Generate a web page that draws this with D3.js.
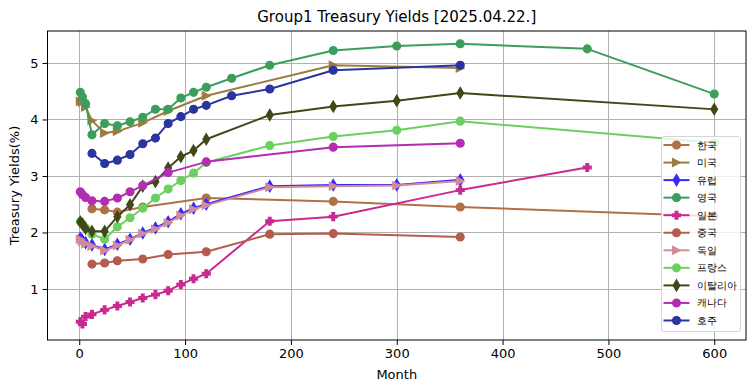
<!DOCTYPE html>
<html><head><meta charset="utf-8">
<script src="https://cdn.jsdelivr.net/npm/d3@7"></script>
<style>
html,body{margin:0;padding:0;background:#fff;}
svg text{font-family:"DejaVu Sans",sans-serif;fill:#000;}
</style></head>
<body><svg id="c" width="755" height="391"></svg>
<script>
// ---- data ----
const seriesNames = ["한국","미국","유럽","영국","일본","중국","독일","프랑스","이탈리아","캐나다","호주"];
const seriesColors = ["#b07048","#9e7b40","#3a28ff","#3c9e5c","#c82a91","#b55c4c","#d28c95","#6cd060","#404818","#b42cb4","#2a35a0"];
const seriesMarkers = ["o",">","d","o","P","o",">","o","d","o","o"];

const korMonths = [12,24,36,60,120,240,360,600];
const korYields = [2.42,2.40,2.36,2.45,2.61,2.55,2.45,2.29];
const usaMonths = [1,3,6,12,24,36,60,84,120,240,360];
const usaYields = [4.32,4.31,4.22,3.98,3.76,3.79,3.94,4.15,4.42,4.96,4.91];
const eurMonths = [1,3,6,12,24,36,48,60,72,84,96,108,120,180,240,300,360];
const eurYields = [1.90,1.86,1.82,1.78,1.70,1.79,1.88,1.99,2.08,2.19,2.33,2.43,2.50,2.82,2.84,2.84,2.93];
const gbrMonths = [1,3,6,12,24,36,48,60,72,84,96,108,120,144,180,240,300,360,480,600];
const gbrYields = [4.48,4.40,4.28,3.73,3.93,3.89,3.96,4.04,4.18,4.18,4.38,4.48,4.57,4.73,4.96,5.22,5.30,5.34,5.25,4.45];
const jpnMonths = [1,3,6,12,24,36,48,60,72,84,96,108,120,180,240,360,480];
const jpnYields = [0.42,0.38,0.51,0.55,0.63,0.70,0.77,0.84,0.90,0.97,1.08,1.18,1.27,2.20,2.28,2.75,3.15];
const chnMonths = [12,24,36,60,84,120,180,240,360];
const chnYields = [1.44,1.46,1.50,1.53,1.61,1.66,1.97,1.98,1.92];
const deuMonths = [1,3,6,12,24,36,48,60,72,84,96,108,120,180,240,300,360];
const deuYields = [1.88,1.84,1.80,1.76,1.68,1.77,1.87,1.98,2.06,2.17,2.30,2.41,2.48,2.80,2.82,2.83,2.91];
const fraMonths = [1,3,6,12,24,36,48,60,72,84,96,108,120,180,240,300,360,600];
const fraYields = [2.19,2.15,2.08,1.97,1.88,2.10,2.26,2.43,2.61,2.77,2.92,3.05,3.24,3.54,3.70,3.81,3.97,3.59];
const itaMonths = [1,3,6,12,24,36,48,60,72,84,96,108,120,180,240,300,360,600];
const itaYields = [2.19,2.15,2.07,2.02,2.02,2.28,2.49,2.82,2.90,3.14,3.34,3.45,3.65,4.08,4.23,4.33,4.47,4.18];
const canMonths = [1,3,6,12,24,36,48,60,84,120,240,360];
const canYields = [2.72,2.67,2.62,2.56,2.55,2.61,2.72,2.83,3.06,3.25,3.51,3.58];
const ausMonths = [12,24,36,48,60,72,84,96,108,120,144,180,240,360];
const ausYields = [3.40,3.22,3.28,3.38,3.57,3.67,3.93,4.05,4.18,4.25,4.42,4.54,4.87,4.96];

const xTicks = [0,100,200,300,400,500,600];
const yTicks = [1,2,3,4,5];
const titleText = "Group1 Treasury Yields [2025.04.22.]";
const xLabel = "Month";
const yLabel = "Treasury Yields(%)";

const monthsList = [korMonths,usaMonths,eurMonths,gbrMonths,jpnMonths,chnMonths,deuMonths,fraMonths,itaMonths,canMonths,ausMonths];
const yieldsList = [korYields,usaYields,eurYields,gbrYields,jpnYields,chnYields,deuYields,fraYields,itaYields,canYields,ausYields];
const series = seriesNames.map((n,i)=>({name:n,color:seriesColors[i],marker:seriesMarkers[i],
  pts:monthsList[i].map((m,j)=>({x:m,y:yieldsList[i][j]}))}));

// ---- layout ----
const L=47.5, R=746, T=31, B=340;
const x = d3.scaleLinear().domain([-30,630]).range([L,R]);
const y = d3.scaleLinear().domain([0.097,5.566]).range([B,T]);
const svg = d3.select("#c");

// grid
const g = svg.append("g");
g.selectAll(".gx").data(xTicks).enter().append("line")
  .attr("x1",d=>Math.round(x(d))+0.5).attr("x2",d=>Math.round(x(d))+0.5).attr("y1",T).attr("y2",B)
  .attr("stroke","#b0b0b0").attr("stroke-width",1);
g.selectAll(".gy").data(yTicks).enter().append("line")
  .attr("y1",d=>Math.round(y(d))+0.5).attr("y2",d=>Math.round(y(d))+0.5).attr("x1",L).attr("x2",R)
  .attr("stroke","#b0b0b0").attr("stroke-width",1);

// axes
const xAxis = d3.axisBottom(x).tickValues(xTicks).tickSize(5).tickPadding(4).tickFormat(d3.format("d"));
const yAxis = d3.axisLeft(y).tickValues(yTicks).tickSize(5).tickPadding(4).tickFormat(d3.format("d"));
const gx = svg.append("g").attr("transform",`translate(0,${B})`).call(xAxis);
const gy = svg.append("g").attr("transform",`translate(${L},0)`).call(yAxis);
[gx,gy].forEach(a=>{a.select(".domain").remove();
  a.selectAll("text").attr("font-family","DejaVu Sans").attr("font-size","13px").attr("fill","#000");
  a.selectAll("line").attr("stroke","#000");});

// marker paths
const s = 1.3; // px per pt
function markerPath(m,size){
  const h = size*s/2;
  if(m==="o") return null;
  if(m===">") return `M${h},0L${-h},${-h}L${-h},${h}Z`;
  if(m==="d"){const v=0.707*size*s, w=0.6*0.707*size*s; return `M0,${-v}L${w},0L0,${v}L${-w},0Z`;}
  if(m==="P"){const a=h/3; return `M${-a},${-h}H${a}V${-a}H${h}V${a}H${a}V${h}H${-a}V${a}H${-h}V${-a}H${-a}Z`;}
}
function drawMarker(sel,m,color,size){
  if(m==="o") sel.append("circle").attr("r",size*s/2).attr("fill",color).attr("stroke",color).attr("stroke-width",1.3);
  else sel.append("path").attr("d",markerPath(m,size)).attr("fill",color).attr("stroke",color).attr("stroke-width",1.3).attr("stroke-linejoin","miter");
}

// plot
const plot = svg.append("g");
const line = d3.line().x(d=>x(d.x)).y(d=>y(d.y));
series.forEach(sr=>{
  const gg = plot.append("g");
  gg.append("path").datum(sr.pts).attr("d",line).attr("fill","none").attr("stroke",sr.color).attr("stroke-width",2).attr("stroke-linejoin","round").attr("stroke-linecap","square");
  sr.pts.forEach(p=>{
    const mg = gg.append("g").attr("transform",`translate(${x(p.x)},${y(p.y)})`);
    drawMarker(mg,sr.marker,sr.color,6);
  });
});

// frame
svg.append("rect").attr("x",L).attr("y",T).attr("width",R-L).attr("height",B-T)
  .attr("fill","none").attr("stroke","#000").attr("stroke-width",1);

// legend
const lg = svg.append("g");
lg.append("rect").attr("x",661.5).attr("y",136.5).attr("width",79).attr("height",195).attr("rx",2.5)
  .attr("fill","#fff").attr("fill-opacity",0.8).attr("stroke","#d6d6d6").attr("stroke-width",1);
series.forEach((sr,i)=>{
  const yy = 145 + i*17.55;
  const row = lg.append("g").attr("transform",`translate(0,${yy})`);
  row.append("line").attr("x1",663.5).attr("x2",689.5).attr("y1",0).attr("y2",0).attr("stroke",sr.color).attr("stroke-width",2);
  const mg = row.append("g").attr("transform","translate(676.5,0)");
  drawMarker(mg,sr.marker,sr.color,6);
  row.append("text").attr("x",697).attr("y",0).attr("dy","0.35em").attr("font-size","10px")
    .attr("font-family","'Noto Sans CJK KR','Noto Sans',sans-serif").text(sr.name);
});

// titles
svg.append("text").attr("x",(L+R)/2).attr("y",22).attr("text-anchor","middle").attr("font-size","15px").text(titleText);
svg.append("text").attr("x",(L+R)/2).attr("y",379).attr("text-anchor","middle").attr("font-size","13px").text(xLabel);
svg.append("text").attr("transform",`translate(19,${(T+B)/2}) rotate(-90)`).attr("text-anchor","middle").attr("font-size","13px").text(yLabel);
</script></body></html>
